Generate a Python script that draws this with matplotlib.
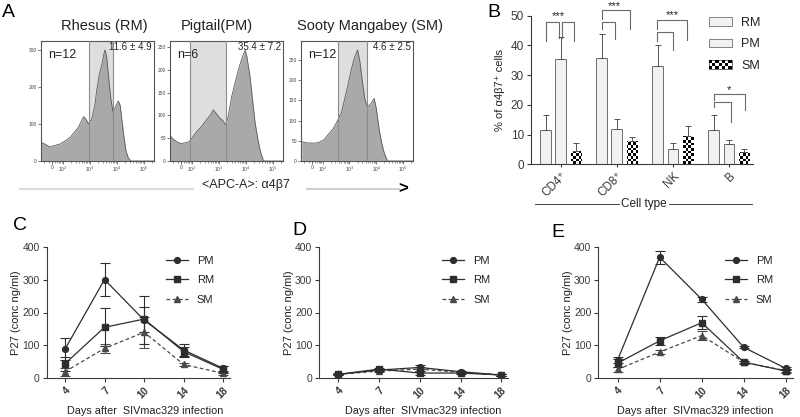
"""
Multi-panel figure: a4b7 flow histograms (A), a4b7+ cell fractions (B),
and plasma P27 over time after SIVmac329 infection (C-E).
"""

import matplotlib
matplotlib.use('Agg')
import matplotlib.pyplot as plt
import numpy as np
from matplotlib.legend_handler import HandlerBase
from matplotlib.lines import Line2D
from matplotlib.patches import Patch, Rectangle

plt.rcParams['font.family'] = ['Liberation Sans', 'DejaVu Sans']

W, H = 800, 417

# ---------------------------------------------------------------------------
# Data
# ---------------------------------------------------------------------------

# A: histograms, x in decades of APC-A intensity, y = event count
hist_titles = ['Rhesus (RM)', 'Pigtail(PM)', 'Sooty Mangabey (SM)']
hist_n = ['n=12', 'n=6', 'n=12']
hist_pct = ['11.6 ± 4.9', '35.4 ± 7.2', '4.6 ± 2.5']
hist_gate = [(2.96, 3.85), (1.93, 3.27), (2.56, 3.67)]
hist_ymax = [324, 263, 297]
hist_yticks = [[0, 100, 200, 300], [0, 50, 100, 150, 200, 250], [0, 50, 100, 150, 200, 250]]

rm_hist_x = [1.19, 1.35, 1.52, 1.7, 1.9, 2.1, 2.27, 2.45, 2.58, 2.7, 2.77, 2.86, 2.95,
             3.07, 3.18, 3.25, 3.35, 3.44, 3.52, 3.56, 3.62, 3.68, 3.77, 3.86, 3.95,
             4.05, 4.12, 4.17, 4.25, 4.33, 4.42, 4.52, 4.6, 5.37]
rm_hist_y = [51, 45, 38, 42, 46, 55, 64, 80, 92, 110, 120, 112, 100,
             114, 150, 190, 235, 260, 290, 300, 280, 234, 170, 130, 148,
             162, 150, 118, 70, 29, 8, 0, 0, 0]

pm_hist_x = [1.19, 1.3, 1.45, 1.6, 1.75, 1.89, 2.0, 2.17, 2.35, 2.54, 2.7, 2.79, 2.9,
             3.04, 3.15, 3.26, 3.35, 3.47, 3.6, 3.72, 3.85, 3.97, 4.03, 4.15, 4.25,
             4.34, 4.45, 4.52, 4.65, 5.37]
pm_hist_y = [57, 48, 42, 38, 40, 42, 50, 64, 75, 90, 102, 112, 104,
             94, 88, 79, 100, 141, 172, 200, 225, 243, 230, 185, 130,
             83, 45, 24, 0, 0]

sm_hist_x = [1.22, 1.4, 1.67, 1.85, 2.04, 2.2, 2.4, 2.56, 2.7, 2.81, 2.95, 3.06, 3.18,
             3.3, 3.38, 3.49, 3.58, 3.67, 3.8, 3.92, 4.0, 4.11, 4.2, 4.3, 4.42, 5.37]
sm_hist_y = [48, 45, 44, 46, 52, 65, 81, 101, 120, 151, 190, 225, 255,
             275, 250, 192, 150, 134, 142, 155, 130, 77, 45, 19, 0, 0]

hist_x = [rm_hist_x, pm_hist_x, sm_hist_x]
hist_y = [rm_hist_y, pm_hist_y, sm_hist_y]

# B: % of a4b7+ cells
cell_types = ['CD4⁺', 'CD8⁺', 'NK', 'B']
rm_pct = [11.6, 35.8, 33.0, 11.6]
rm_sem = [5.0, 8.1, 7.3, 5.1]
pm_pct = [35.5, 11.8, 5.2, 6.9]
pm_sem = [7.3, 3.5, 1.9, 1.3]
sm_pct = [4.6, 7.8, 9.6, 4.3]
sm_sem = [2.5, 1.5, 3.3, 0.8]

# significance brackets: (group, x offset from, x offset to, top, left leg end, right leg end)
brackets = [
    (0, -0.27, -0.03, 48.0, 41.5, 42.6),
    (0, 0.02, 0.23, 48.0, 42.6, 41.5),
    (1, -0.27, 0.23, 51.8, 49.0, 45.4),
    (1, -0.27, -0.04, 48.0, 45.4, 42.3),
    (2, -0.28, 0.25, 48.4, 45.4, 41.8),
    (2, -0.28, 0.0, 44.6, 41.4, 38.4),
    (3, -0.26, 0.28, 23.6, 21.7, 18.3),
    (3, -0.26, 0.04, 20.9, 19.3, 14.4),
]
stars = [(0, -0.04, '***', 50.0), (1, -0.05, '***', 53.4), (2, 0.0, '***', 50.3), (3, 0.01, '*', 25.0)]

# C-E: P27 (ng/ml) by day after infection
days = ['4', '7', '10', '14', '18']
c_pm = [88, 300, 177, 86, 30]
c_pm_err = [33, 50, 73, 18, 8]
c_rm = [44, 155, 180, 81, 27]
c_rm_err = [22, 58, 38, 15, 10]
c_sm = [20, 91, 140, 42, 15]
c_sm_err = [12, 13, 47, 5, 5]

d_pm = [12, 25, 33, 20, 10]
d_pm_err = [3, 4, 6, 3, 2]
d_rm = [12, 28, 16, 16, 10]
d_rm_err = [2, 4, 5, 3, 2]
d_sm = [12, 22, 28, 18, 10]
d_sm_err = [2, 3, 5, 3, 2]

e_pm = [56, 368, 240, 94, 30]
e_pm_err = [8, 20, 7, 3, 5]
e_rm = [46, 114, 169, 49, 22]
e_rm_err = [12, 12, 20, 5, 6]
e_sm = [27, 80, 130, 49, 23]
e_sm_err = [8, 7, 15, 4, 4]

# ---------------------------------------------------------------------------
# Helpers (pixel placement)
# ---------------------------------------------------------------------------

fig = plt.figure(figsize=(W / 100, H / 100), dpi=100)


def px_axes(left, top, right, bottom):
    return fig.add_axes([left / W, 1 - bottom / H, (right - left) / W, (bottom - top) / H])


def ftext(x, y, s, **kw):
    return fig.text(x / W, 1 - y / H, s, **kw)


def fline(x0, x1, y, **kw):
    fig.add_artist(Line2D([x0 / W, x1 / W], [1 - y / H, 1 - y / H], transform=fig.transFigure, **kw))


AX = '#3a3a3a'

# ---------------------------------------------------------------------------
# Panel A
# ---------------------------------------------------------------------------

ftext(2, 17, 'A', fontsize=14)
hist_boxes = [(41, 154), (170, 283), (301, 413)]
title_x = [104, 217, 370]
for i, (l, r) in enumerate(hist_boxes):
    ax = px_axes(l, 41, r, 161)
    lo, hi = hist_gate[i]
    ax.axvspan(lo, hi, color='#dedede', zorder=0, lw=0)
    ax.fill_between(hist_x[i], hist_y[i], color='#a9a9a9', lw=0, zorder=1)
    ax.plot(hist_x[i], hist_y[i], color='#5a5a5a', lw=0.6, zorder=2)
    for g in (lo, hi):
        ax.axvline(g, color='#8c8c8c', lw=0.8, zorder=3)
    ax.set_xlim(1.19, 5.37)
    ax.set_ylim(0, hist_ymax[i])
    ax.set_yticks(hist_yticks[i])
    ax.set_xticks([1.6, 2, 3, 4, 5])
    ax.set_xticklabels(['0', '10$^2$', '10$^3$', '10$^4$', '10$^5$'])
    minor = [d + np.log10(m) for d in range(1, 6) for m in range(2, 10) if 1.19 < d + np.log10(m) < 5.37]
    ax.set_xticks(minor, minor=True)
    ax.tick_params(labelsize=3.5, length=2, width=0.5, pad=1, colors='#444')
    ax.tick_params(which='minor', length=1.2, width=0.4, colors='#444')
    for sp in ax.spines.values():
        sp.set_color('#555')
        sp.set_linewidth(0.8)
    ax.text(0.06, 0.88, hist_n[i], transform=ax.transAxes, fontsize=9, va='center', color='#222')
    ax.text(0.98, 0.95, hist_pct[i], transform=ax.transAxes, fontsize=7, va='center', ha='right', color='#222')
    ftext(title_x[i], 26, hist_titles[i], fontsize=10.5, ha='center', va='center', color='#222')

fline(20, 193, 189, color='#dcdcdc', lw=1.5)
ftext(246, 185, '<APC-A>: α4β7', fontsize=9, ha='center', va='center', color='#222')
fline(307, 399, 189, color='#d0d0d0', lw=1.5)
ftext(403, 189, '>', fontsize=12, fontweight='bold', ha='center', va='center')

# ---------------------------------------------------------------------------
# Panel B
# ---------------------------------------------------------------------------

class CheckerHandler(HandlerBase):
    def create_artists(self, legend, orig_handle, xd, yd, width, height, fontsize, trans):
        arts = [Rectangle((xd, yd), width, height, facecolor='white', edgecolor='#555', lw=0.6, transform=trans)]
        nx, ny = 7, 3
        for a in range(nx):
            for b in range(ny):
                if (a + b) % 2 == 0:
                    arts.append(Rectangle((xd + a * width / nx, yd + b * height / ny), width / nx,
                                          height / ny, facecolor='black', lw=0, transform=trans))
        return arts


ftext(487, 17, 'B', fontsize=14)
axb = px_axes(531, 15.7, 753, 164.3)
xg = np.arange(len(cell_types))
off, bw = 0.27, 0.19
bar_kw = dict(width=bw, facecolor='#f1f1f1', edgecolor='#6f6f6f', linewidth=0.7, zorder=2)
err_kw = dict(fmt='none', ecolor='#555', elinewidth=0.7, capsize=2.4, capthick=0.7, zorder=3)
axb.bar(xg - off, rm_pct, **bar_kw)
axb.errorbar(xg - off, rm_pct, yerr=[np.zeros(4), rm_sem], **err_kw)
axb.bar(xg, pm_pct, **bar_kw)
axb.errorbar(xg, pm_pct, yerr=[np.zeros(4), pm_sem], **err_kw)
sm_bars = axb.bar(xg + off, sm_pct, width=bw, facecolor='white', edgecolor='#444', linewidth=0.7, zorder=2)
axb.errorbar(xg + off, sm_pct, yerr=[np.zeros(4), sm_sem], **err_kw)

# checkerboard fill for the SM bars, clipped to each bar
checker = (np.indices((57, 85)).sum(axis=0) % 2).astype(float)
for p in sm_bars:
    im = axb.imshow(checker, cmap='gray', extent=[0, 1, 0, 1], transform=axb.transAxes,
                    interpolation='nearest', aspect='auto', zorder=2.5)
    im.set_clip_path(p)

for g, a, b, top, l_end, r_end in brackets:
    axb.plot([g + a, g + a, g + b, g + b], [l_end, top, top, r_end], color='#6a6a6a', lw=0.8,
             clip_on=False, zorder=4)
for g, a, s, y in stars:
    axb.text(g + a, y, s, ha='center', va='center', fontsize=8, color='#222', clip_on=False)

axb.set_xlim(-0.53, 3.43)
axb.set_ylim(0, 50)
axb.set_yticks([0, 10, 20, 30, 40, 50])
axb.set_xticks(xg)
axb.set_xticklabels(cell_types, rotation=45, ha='right', va='top', rotation_mode='anchor')
axb.tick_params(labelsize=8.5, length=3, width=0.8, colors=AX, pad=2)
axb.tick_params(axis='x', length=2)
axb.set_ylabel('% of α4β7⁺ cells', fontsize=8, color='#222', labelpad=4)
for sp in ('top', 'right'):
    axb.spines[sp].set_visible(False)
for sp in ('left', 'bottom'):
    axb.spines[sp].set_color(AX)
    axb.spines[sp].set_linewidth(0.8)

sm_handle = Patch(facecolor='white', label='SM')
leg = axb.legend([Patch(facecolor='#f1f1f1', edgecolor='#6f6f6f', lw=0.6),
                  Patch(facecolor='#f1f1f1', edgecolor='#6f6f6f', lw=0.6), sm_handle],
                 ['RM', 'PM', 'SM'], handler_map={sm_handle: CheckerHandler()},
                 loc='upper left', bbox_to_anchor=(709 / W, 1 - 17 / H), bbox_transform=fig.transFigure,
                 frameon=False, fontsize=9, handlelength=1.8, handleheight=0.7, handletextpad=0.8,
                 labelspacing=0.75, borderpad=0, borderaxespad=0)
for t in leg.get_texts():
    t.set_color('#222')

ftext(644, 204, 'Cell type', fontsize=8.5, ha='center', va='center', color='#222')
fline(535, 619, 204, color='#444', lw=0.7)
fline(669, 752, 204, color='#444', lw=0.7)

# ---------------------------------------------------------------------------
# Panels C-E
# ---------------------------------------------------------------------------

def time_panel(ax, pm, pm_err, rm, rm_err, sm, sm_err, label_x):
    x = np.arange(len(days))
    common = dict(capsize=3.5, elinewidth=0.8, capthick=0.8, lw=0.9, markersize=4.2)
    ax.errorbar(x, sm, yerr=sm_err, color='#4a4a4a', ls=(0, (3, 2)), marker='^', **common)
    ax.errorbar(x, rm, yerr=rm_err, color='#2e2e2e', ls='-', marker='s', **common)
    ax.errorbar(x, pm, yerr=pm_err, color='#2e2e2e', ls='-', marker='o', **common)
    ax.set_xlim(-0.46, 4.17)
    ax.set_ylim(0, 400)
    ax.set_yticks([0, 100, 200, 300, 400])
    ax.set_xticks(x)
    ax.set_xticklabels(days, rotation=45, ha='right', va='top', rotation_mode='anchor', fontweight='bold')
    ax.tick_params(labelsize=7.5, length=3, width=0.8, colors=AX, pad=2)
    ax.set_ylabel('P27 (conc ng/ml)', fontsize=8, color='#222', labelpad=1)
    ax.set_xlabel('Days after  SIVmac329 infection', fontsize=7.8, color='#222', va='center')
    ax.xaxis.set_label_coords(label_x, (378.3 - 411) / 131.6)
    for sp in ('top', 'right'):
        ax.spines[sp].set_visible(False)
    for sp in ('left', 'bottom'):
        ax.spines[sp].set_color(AX)
        ax.spines[sp].set_linewidth(0.8)
    handles = [Line2D([], [], color='#2e2e2e', marker='o', markersize=4.2, lw=0.9),
               Line2D([], [], color='#2e2e2e', marker='s', markersize=4.2, lw=0.9),
               Line2D([], [], color='#4a4a4a', marker='^', markersize=4, lw=0.9, ls=(0, (3, 2)))]
    leg = ax.legend(handles, ['PM', 'RM', 'SM'], loc='upper left', bbox_to_anchor=(0.65, 0.93),
                    frameon=False, fontsize=8, handlelength=2.0, handletextpad=0.8,
                    labelspacing=0.85, borderpad=0, borderaxespad=0)
    for t in leg.get_texts():
        t.set_color('#222')


ftext(13, 230, 'C', fontsize=14)
axc = px_axes(46.7, 246.7, 230, 378.3)
time_panel(axc, c_pm, c_pm_err, c_rm, c_rm_err, c_sm, c_sm_err, 0.536)

ftext(292, 235, 'D', fontsize=14)
axd = px_axes(319.3, 246.7, 508.3, 378.3)
time_panel(axd, d_pm, d_pm_err, d_rm, d_rm_err, d_sm, d_sm_err, 0.549)

ftext(551, 237, 'E', fontsize=14)
axe = px_axes(598.3, 246.7, 793, 378.3)
time_panel(axe, e_pm, e_pm_err, e_rm, e_rm_err, e_sm, e_sm_err, 0.5)

fig.savefig('out.png', dpi=100)
